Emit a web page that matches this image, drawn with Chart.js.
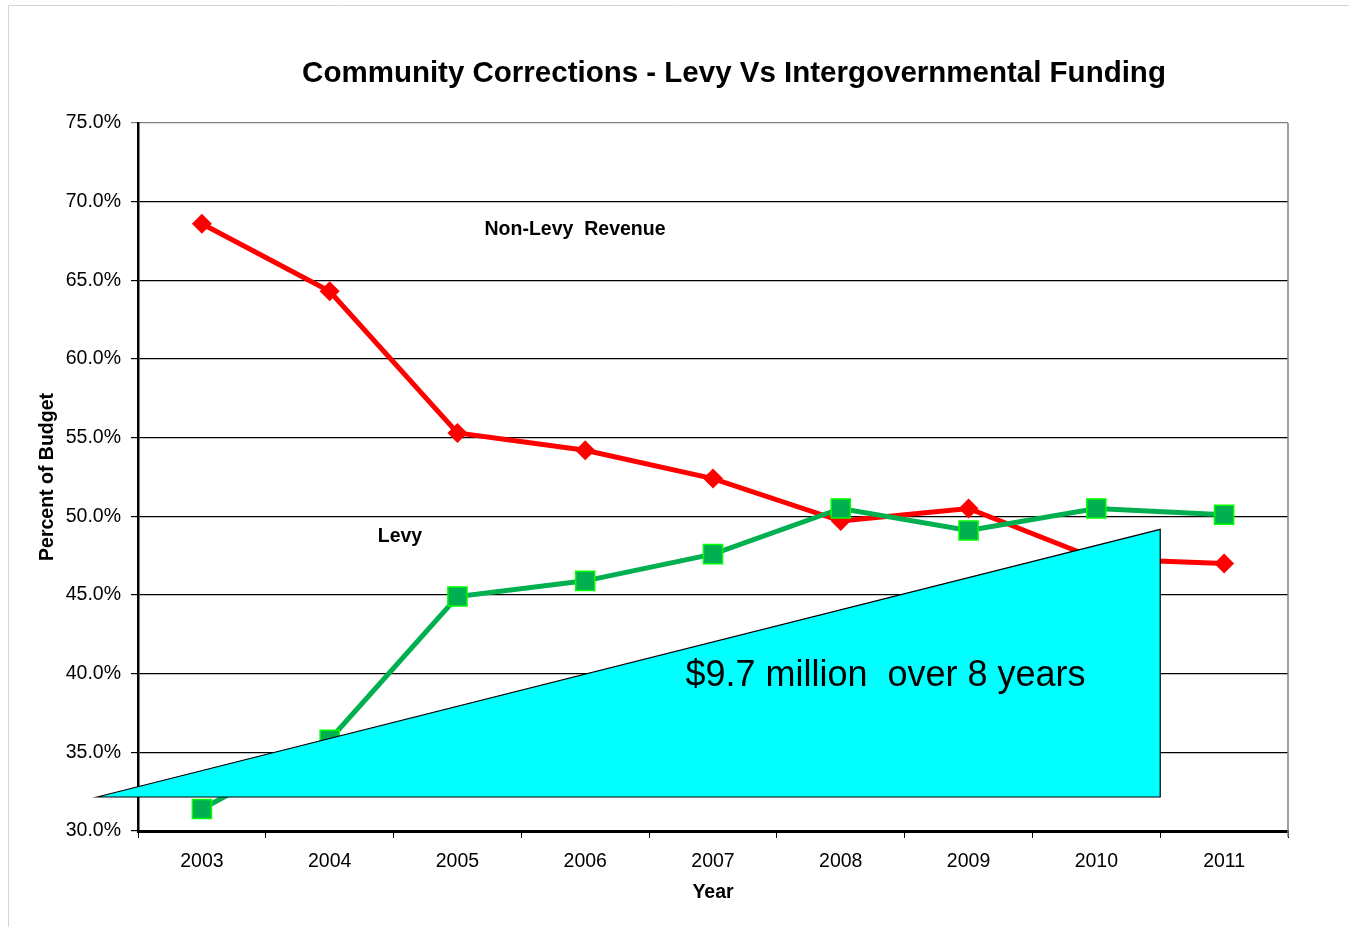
<!DOCTYPE html>
<html>
<head>
<meta charset="utf-8">
<script src="https://cdn.jsdelivr.net/npm/chart.js@4"></script>
<style>
  html, body { margin: 0; padding: 0; background: #fff; }
</style>
</head>
<body>
<canvas id="chart" width="1349" height="927"></canvas>
<script>
// data
const years = ['2003', '2004', '2005', '2006', '2007', '2008', '2009', '2010', '2011'];
const levy = [31.4, 35.8, 44.9, 45.9, 47.6, 50.5, 49.1, 50.5, 50.1];
const nonLevy = [68.6, 64.3, 55.3, 54.2, 52.4, 49.7, 50.5, 47.3, 47.0];
const yTicks = [30, 35, 40, 45, 50, 55, 60, 65, 70, 75];

// annotation shapes, in axis units (category index / percent)
const wedgeX = [-0.82, 7.5, 7.5];
const wedgeY = [32.16, 49.17, 32.16];
const notes = [
  { text: 'Non-Levy  Revenue', x: 2.92, y: 68.2, font: 'bold 19.5px "Liberation Sans", Arial' },
  { text: 'Levy', x: 1.55, y: 48.7, font: 'bold 19.5px "Liberation Sans", Arial' },
  { text: '$9.7 million  over 8 years', x: 5.35, y: 39.85, font: '36px "Liberation Sans", Arial' }
];

const FONT = '"Liberation Sans", Arial, sans-serif';

const decor = {
  id: 'decor',
  beforeDraw(chart) {
    const c = chart.ctx;
    c.save();
    c.fillStyle = '#fff';
    c.fillRect(0, 0, chart.width, chart.height);
    // outer frame
    c.strokeStyle = '#d4d4d4';
    c.lineWidth = 1;
    c.beginPath();
    c.moveTo(8.5, chart.height);
    c.lineTo(8.5, 5.5);
    c.lineTo(chart.width, 5.5);
    c.stroke();
    // title
    c.fillStyle = '#000';
    c.font = 'bold 29.5px ' + FONT;
    c.textAlign = 'center';
    c.textBaseline = 'middle';
    c.fillText('Community Corrections - Levy Vs Intergovernmental Funding', 734, 74);
    c.restore();
  },
  beforeDatasetsDraw(chart) {
    const a = chart.chartArea;
    const c = chart.ctx;
    c.save();
    c.strokeStyle = '#808080';
    c.lineWidth = 1.5;
    c.beginPath();
    c.moveTo(a.right, a.top);
    c.lineTo(a.right, a.bottom + 6);
    c.stroke();
    c.restore();
  },
  afterDatasetsDraw(chart) {
    const c = chart.ctx;
    const xs = chart.scales.x, ys = chart.scales.y;
    c.save();
    c.beginPath();
    wedgeX.forEach((v, i) => {
      const px = xs.getPixelForValue(v), py = ys.getPixelForValue(wedgeY[i]);
      if (i === 0) c.moveTo(px, py); else c.lineTo(px, py);
    });
    c.closePath();
    c.fillStyle = '#00FFFF';
    c.fill();
    c.strokeStyle = '#000';
    c.lineWidth = 1.2;
    c.stroke();

    c.fillStyle = '#000';
    c.textAlign = 'center';
    c.textBaseline = 'middle';
    notes.forEach(n => {
      c.font = n.font;
      c.fillText(n.text, xs.getPixelForValue(n.x), ys.getPixelForValue(n.y));
    });
    c.restore();
  }
};

new Chart(document.getElementById('chart'), {
  type: 'line',
  data: {
    labels: years,
    datasets: [
      {
        label: 'Levy',
        data: levy,
        borderColor: '#00B050',
        borderWidth: 5,
        pointStyle: 'rect',
        pointRadius: 13.5,
        pointBackgroundColor: '#00B050',
        pointBorderColor: '#00FF00',
        pointBorderWidth: 1.5,
        tension: 0
      },
      {
        label: 'Non-Levy Revenue',
        data: nonLevy,
        borderColor: '#FF0000',
        borderWidth: 5,
        pointStyle: 'rectRot',
        pointRadius: 10,
        pointBackgroundColor: '#FF0000',
        pointBorderColor: '#FF0000',
        pointBorderWidth: 0,
        tension: 0
      }
    ]
  },
  options: {
    responsive: false,
    animation: false,
    layout: { padding: { top: 123, right: 61, bottom: 0, left: 0 } },
    plugins: {
      legend: { display: false },
      tooltip: { enabled: false },
      title: { display: false }
    },
    scales: {
      x: {
        offset: true,
        afterFit: s => { s.height = 96; },
        grid: { display: true, drawOnChartArea: false, drawTicks: true, tickLength: 7, offset: true, color: '#000' },
        border: { color: '#000', width: 3 },
        ticks: { padding: 12, color: '#000', maxRotation: 0, font: { family: FONT, size: 19.5 } },
        title: {
          display: true, text: 'Year', color: '#000',
          font: { family: FONT, size: 19.5, weight: 'bold' },
          padding: { top: 0, bottom: 23 }
        }
      },
      y: {
        min: 30,
        max: 75,
        afterFit: s => { s.width = 138; },
        afterBuildTicks: s => { s.ticks = yTicks.map(v => ({ value: v })); },
        grid: {
          color: ctx => (ctx.tick && ctx.tick.value === 75) ? '#808080' : '#000',
          lineWidth: 1.2,
          tickLength: 7
        },
        border: { color: '#000', width: 2.5 },
        ticks: {
          padding: 10, color: '#000',
          font: { family: FONT, size: 19.5 },
          callback: v => v.toFixed(1) + '%'
        },
        title: {
          display: true, text: 'Percent of Budget', color: '#000',
          font: { family: FONT, size: 19.5, weight: 'bold' },
          padding: { top: 36, bottom: 0 }
        }
      }
    }
  },
  plugins: [decor]
});
</script>
</body>
</html>
